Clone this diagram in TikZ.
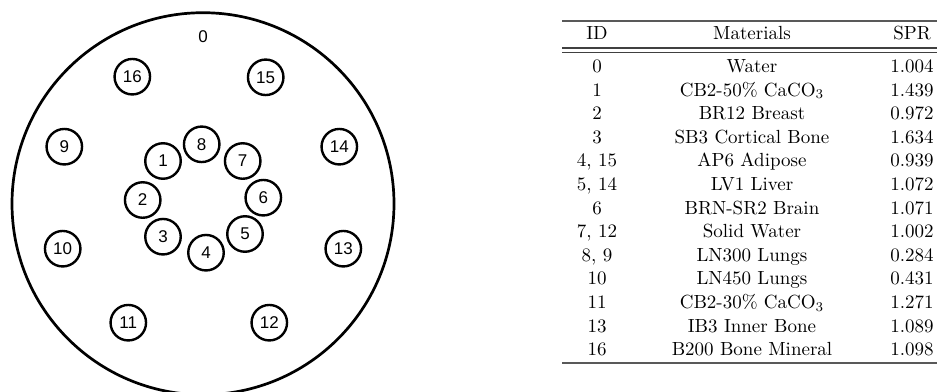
\documentclass[tikz,border=0pt]{standalone}
\usepackage{fontspec}
\usepackage{graphicx}
\newfontfamily\labelfont{Liberation Sans}
\newcommand{\bigcell}[1]{\scalebox{1.9}{#1}}
\begin{document}
\begin{tikzpicture}[x=1pt,y=-1pt,
  insert/.style={circle,draw,line width=2.4pt,minimum size=35.5pt,inner sep=0pt,font=\labelfont\fontsize{17}{20}\selectfont},
  phantomlbl/.style={font=\labelfont\fontsize{17}{20}\selectfont,inner sep=0pt},
  cell/.style={font=\fontsize{10}{12}\selectfont,inner sep=0pt,anchor=base},
  rulethin/.style={line width=1.1pt,draw=black!75},
  rulethick/.style={line width=1.6pt,draw=black!65}]
\clip (0,0) rectangle (937,391);
\fill[white] (0,0) rectangle (937,391);
% phantom
\node[circle,draw,line width=2.7pt,minimum size=382pt,inner sep=0pt] (body) at (203,203.7) {};
\node[phantomlbl] (l0) at (203,37) {0};
\node[insert] (c16) at (132.3,76.7) {16};
\node[insert] (c15) at (265.7,77.3) {15};
\node[insert] (c9) at (64.3,146.7) {9};
\node[insert] (c14) at (339.3,146.7) {14};
\node[insert] (c10) at (62.7,248.7) {10};
\node[insert] (c13) at (343.3,248.7) {13};
\node[insert] (c11) at (128.3,322.7) {11};
\node[insert] (c12) at (269.3,322.7) {12};
\node[insert] (c1) at (163,161) {1};
\node[insert] (c8) at (201.7,144.3) {8};
\node[insert] (c7) at (242.7,161) {7};
\node[insert] (c2) at (142.7,200) {2};
\node[insert] (c6) at (263.3,197.7) {6};
\node[insert] (c3) at (163,236.7) {3};
\node[insert] (c4) at (206,252.7) {4};
\node[insert] (c5) at (245,234) {5};
% table
\coordinate (tl) at (562,21);
\coordinate (tr) at (937,21);
\draw[rulethick] (tl) -- (tr);
\node[cell] (hid) at (597,39) {\bigcell{ID}};
\node[cell] (hmat) at (752,39) {\bigcell{Materials}};
\node[cell] (hspr) at (912,39) {\bigcell{SPR}};
\coordinate (d1l) at (562,48);
\coordinate (d1r) at (937,48);
\coordinate (d2l) at (562,52.5);
\coordinate (d2r) at (937,52.5);
\draw[rulethin] (d1l) -- (d1r);
\draw[rulethin] (d2l) -- (d2r);
\foreach \i/\id/\mat/\spr in {
  0/0/Water/1.004,
  1/1/{CB2-50\% CaCO$_3$}/1.439,
  2/2/BR12 Breast/0.972,
  3/3/SB3 Cortical Bone/1.634,
  4/{4, 15}/AP6 Adipose/0.939,
  5/{5, 14}/LV1 Liver/1.072,
  6/6/BRN-SR2 Brain/1.071,
  7/{7, 12}/Solid Water/1.002,
  8/{8, 9}/LN300 Lungs/0.284,
  9/10/LN450 Lungs/0.431,
  10/11/{CB2-30\% CaCO$_3$}/1.271,
  11/13/IB3 Inner Bone/1.089,
  12/16/B200 Bone Mineral/1.098}{
  \node[cell] (id\i) at (597,{72.5+23.6*\i}) {\bigcell{\id}};
  \node[cell] (mat\i) at (752,{72.5+23.6*\i}) {\bigcell{\mat}};
  \node[cell] (spr\i) at (912,{72.5+23.6*\i}) {\bigcell{\spr}};
}
\coordinate (bl) at (562,363);
\coordinate (br) at (937,363);
\draw[rulethick] (bl) -- (br);
\end{tikzpicture}
\end{document}
